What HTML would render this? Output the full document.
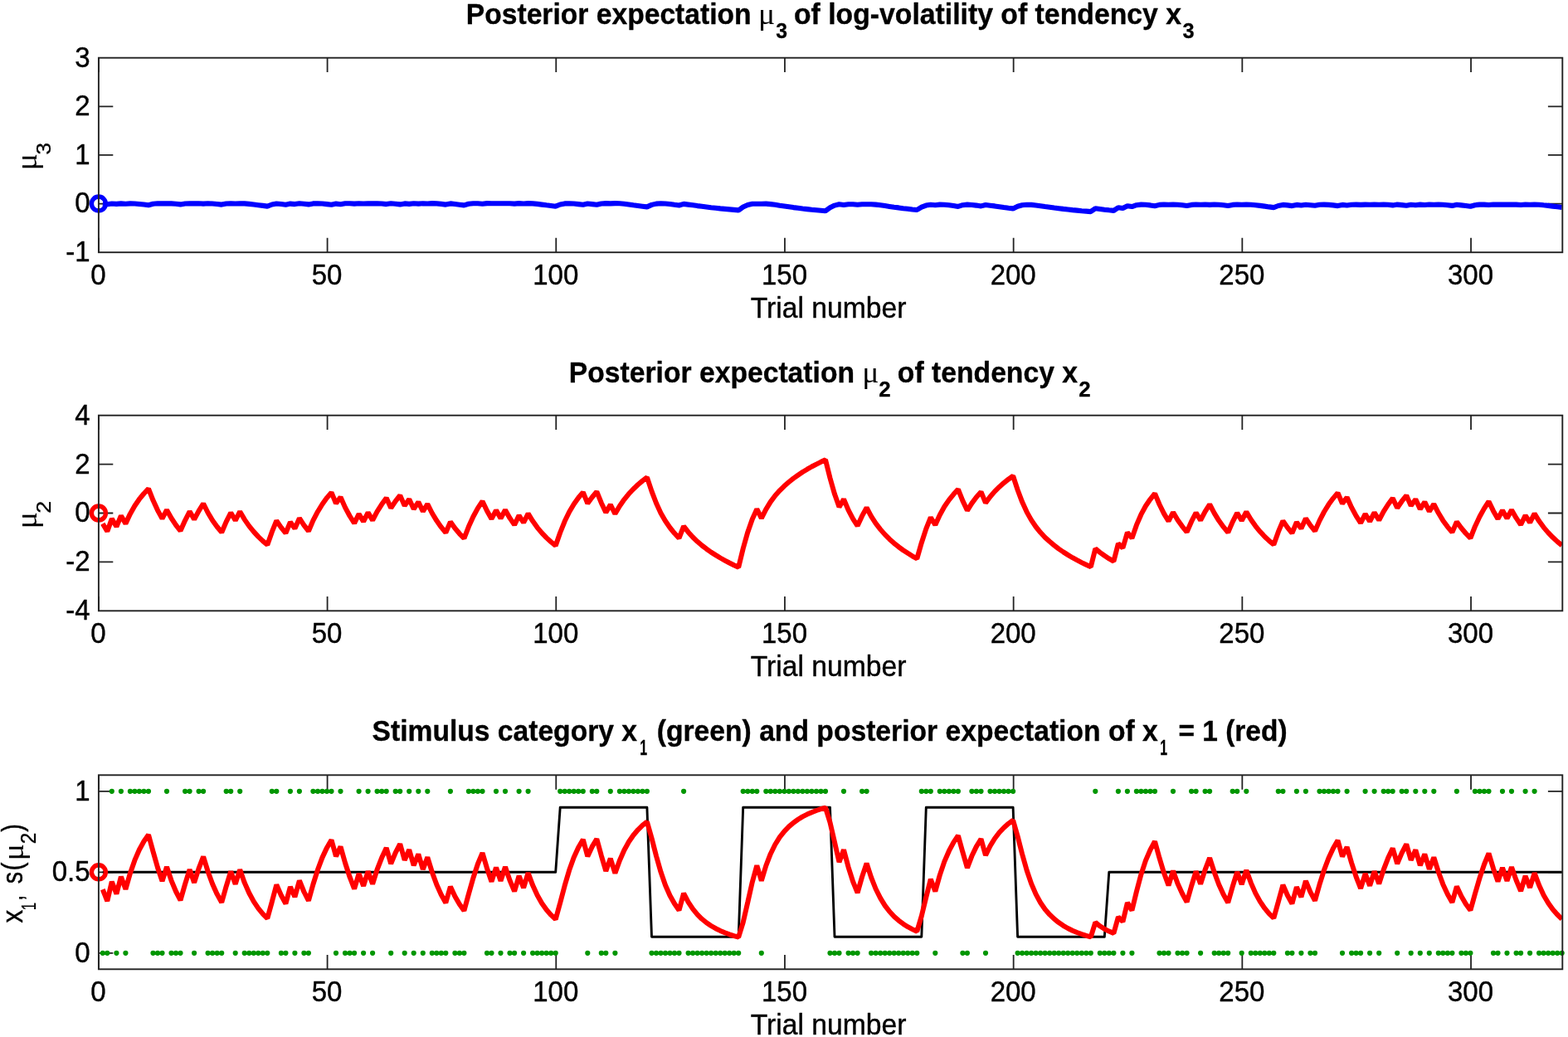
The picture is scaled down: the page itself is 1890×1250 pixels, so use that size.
<!DOCTYPE html>
<html lang="en"><head><meta charset="utf-8"><title>HGF posterior expectations</title>
<style>html,body{margin:0;padding:0;background:#fff}body{width:1890px;height:1250px;overflow:hidden}svg{display:block}text{white-space:pre}</style>
</head><body>
<svg width="1890" height="1250" viewBox="0 0 1890 1250">
<rect width="1890" height="1250" fill="#fff"/>
<defs><clipPath id="clip0"><rect x="118.90" y="69.70" width="1764.40" height="234.50"/></clipPath><clipPath id="clip1"><rect x="118.90" y="500.70" width="1764.40" height="235.60"/></clipPath><clipPath id="clip2"><rect x="118.90" y="934.30" width="1764.40" height="234.00"/></clipPath></defs>
<path d="M118.90,1168.30v-17.4M118.90,934.30v17.4M394.59,1168.30v-17.4M394.59,934.30v17.4M670.27,1168.30v-17.4M670.27,934.30v17.4M945.96,1168.30v-17.4M945.96,934.30v17.4M1221.65,1168.30v-17.4M1221.65,934.30v17.4M1497.34,1168.30v-17.4M1497.34,934.30v17.4M1773.03,1168.30v-17.4M1773.03,934.30v17.4M118.90,1148.80h17.4M1883.30,1148.80h-17.4M118.90,1051.30h17.4M1883.30,1051.30h-17.4M118.90,953.80h17.4M1883.30,953.80h-17.4" stroke="#222" stroke-width="1.8" fill="none"/>
<path d="M118.90,736.30v-17.4M118.90,500.70v17.4M394.59,736.30v-17.4M394.59,500.70v17.4M670.27,736.30v-17.4M670.27,500.70v17.4M945.96,736.30v-17.4M945.96,500.70v17.4M1221.65,736.30v-17.4M1221.65,500.70v17.4M1497.34,736.30v-17.4M1497.34,500.70v17.4M1773.03,736.30v-17.4M1773.03,500.70v17.4M118.90,677.40h17.4M1883.30,677.40h-17.4M118.90,618.50h17.4M1883.30,618.50h-17.4M118.90,559.60h17.4M1883.30,559.60h-17.4" stroke="#222" stroke-width="1.8" fill="none"/>
<path d="M118.90,304.20v-17.4M118.90,69.70v17.4M394.59,304.20v-17.4M394.59,69.70v17.4M670.27,304.20v-17.4M670.27,69.70v17.4M945.96,304.20v-17.4M945.96,69.70v17.4M1221.65,304.20v-17.4M1221.65,69.70v17.4M1497.34,304.20v-17.4M1497.34,69.70v17.4M1773.03,304.20v-17.4M1773.03,69.70v17.4M118.90,245.57h17.4M1883.30,245.57h-17.4M118.90,186.95h17.4M1883.30,186.95h-17.4M118.90,128.32h17.4M1883.30,128.32h-17.4" stroke="#222" stroke-width="1.8" fill="none"/>
<g id="p1">
<polyline clip-path="url(#clip0)" points="123.8,245.8 129.3,246.2 134.8,245.5 140.4,245.9 145.9,245.4 151.4,245.7 156.9,245.4 162.4,245.5 167.9,246.0 173.4,246.5 179.0,247.2 184.5,245.8 190.0,245.3 195.5,245.4 201.0,245.3 206.5,245.4 212.0,245.8 217.5,246.4 223.1,245.5 228.6,245.3 234.1,245.4 239.6,245.3 245.1,245.6 250.6,245.3 256.1,245.5 261.7,246.0 267.2,246.6 272.7,245.5 278.2,245.3 283.7,245.5 289.2,245.3 294.7,245.4 300.3,245.9 305.8,246.5 311.3,247.2 316.8,247.9 322.3,248.6 327.8,246.5 333.3,245.5 338.9,246.0 344.4,246.7 349.9,245.6 355.4,246.1 360.9,245.3 366.4,245.8 371.9,246.4 377.4,245.4 383.0,245.2 388.5,245.5 394.0,246.1 399.5,246.8 405.0,245.6 410.5,246.2 416.0,245.3 421.6,245.2 427.1,245.6 432.6,245.2 438.1,245.5 443.6,245.2 449.1,245.4 454.6,245.2 460.2,245.5 465.7,246.1 471.2,245.3 476.7,245.7 482.2,246.4 487.7,245.4 493.2,245.9 498.7,245.2 504.3,245.6 509.8,245.2 515.3,245.5 520.8,245.1 526.3,245.4 531.8,245.9 537.3,246.6 542.9,245.4 548.4,246.0 553.9,246.7 559.4,247.4 564.9,245.8 570.4,245.2 575.9,245.2 581.5,245.7 587.0,245.1 592.5,245.3 598.0,245.2 603.5,245.2 609.0,245.2 614.5,245.2 620.1,245.6 625.6,245.1 631.1,245.5 636.6,245.1 642.1,245.4 647.6,245.9 653.1,246.6 658.6,247.3 664.2,248.0 669.7,248.7 675.2,246.5 680.7,245.4 686.2,245.2 691.7,245.5 697.2,246.1 702.8,246.8 708.3,245.5 713.8,246.1 719.3,246.8 724.8,245.5 730.3,245.1 735.8,245.4 741.4,245.1 746.9,245.3 752.4,245.8 757.9,246.5 763.4,247.3 768.9,248.0 774.4,248.7 779.9,249.4 785.5,246.9 791.0,245.6 796.5,245.2 802.0,245.5 807.5,246.0 813.0,246.8 818.5,247.5 824.1,245.9 829.6,246.6 835.1,247.3 840.6,248.1 846.1,248.8 851.6,249.5 857.1,250.2 862.7,250.8 868.2,251.4 873.7,251.9 879.2,252.4 884.7,252.9 890.2,253.4 895.7,249.5 901.3,246.9 906.8,245.7 912.3,245.7 917.8,245.7 923.3,245.6 928.8,246.1 934.3,246.8 939.8,247.7 945.4,248.5 950.9,249.3 956.4,250.1 961.9,250.8 967.4,251.5 972.9,252.1 978.4,252.7 984.0,253.2 989.5,253.7 995.0,254.2 1000.5,250.3 1006.0,247.6 1011.5,246.3 1017.0,247.0 1022.6,246.2 1028.1,246.3 1033.6,246.8 1039.1,246.2 1044.6,246.3 1050.1,246.2 1055.6,246.6 1061.2,247.3 1066.7,248.1 1072.2,248.9 1077.7,249.7 1083.2,250.4 1088.7,251.2 1094.2,251.8 1099.7,252.5 1105.3,253.0 1110.8,249.7 1116.3,247.6 1121.8,246.7 1127.3,247.2 1132.8,246.6 1138.3,246.7 1143.9,247.3 1149.4,248.0 1154.9,248.9 1160.4,247.2 1165.9,246.6 1171.4,247.0 1176.9,247.6 1182.5,248.4 1188.0,247.0 1193.5,247.7 1199.0,248.4 1204.5,249.2 1210.0,250.0 1215.5,250.7 1221.1,251.4 1226.6,248.7 1232.1,247.2 1237.6,246.7 1243.1,246.9 1248.6,247.5 1254.1,248.2 1259.6,249.0 1265.2,249.7 1270.7,250.5 1276.2,251.2 1281.7,251.9 1287.2,252.5 1292.7,253.1 1298.2,253.6 1303.8,254.2 1309.3,254.6 1314.8,255.1 1320.3,251.3 1325.8,252.0 1331.3,252.7 1336.8,253.3 1342.4,253.9 1347.9,250.2 1353.4,251.0 1358.9,248.2 1364.4,249.1 1369.9,247.2 1375.4,246.6 1380.9,246.8 1386.5,247.4 1392.0,248.2 1397.5,246.9 1403.0,246.5 1408.5,246.8 1414.0,246.5 1419.5,246.7 1425.1,247.3 1430.6,248.1 1436.1,246.9 1441.6,246.5 1447.1,246.8 1452.6,246.5 1458.1,246.9 1463.7,246.5 1469.2,246.8 1474.7,247.3 1480.2,248.1 1485.7,246.9 1491.2,246.5 1496.7,246.8 1502.3,246.6 1507.8,246.7 1513.3,247.2 1518.8,247.9 1524.3,248.6 1529.8,249.4 1535.3,250.1 1540.8,248.0 1546.4,246.9 1551.9,247.4 1557.4,248.1 1562.9,246.9 1568.4,247.5 1573.9,246.7 1579.4,247.2 1585.0,247.8 1590.5,246.8 1596.0,246.6 1601.5,246.9 1607.0,247.4 1612.5,248.1 1618.0,246.9 1623.6,247.5 1629.1,246.7 1634.6,246.6 1640.1,246.9 1645.6,246.6 1651.1,246.8 1656.6,246.5 1662.2,246.7 1667.7,246.6 1673.2,246.8 1678.7,247.4 1684.2,246.6 1689.7,247.1 1695.2,247.7 1700.7,246.7 1706.3,247.3 1711.8,246.6 1717.3,247.0 1722.8,246.5 1728.3,246.8 1733.8,246.5 1739.3,246.7 1744.9,247.2 1750.4,247.9 1755.9,246.8 1761.4,247.4 1766.9,248.0 1772.4,248.8 1777.9,247.2 1783.5,246.6 1789.0,246.6 1794.5,247.0 1800.0,246.5 1805.5,246.6 1811.0,246.5 1816.5,246.6 1822.0,246.5 1827.6,246.6 1833.1,247.0 1838.6,246.5 1844.1,246.8 1849.6,246.5 1855.1,246.7 1860.6,247.3 1866.2,247.9 1871.7,248.6 1877.2,249.3 1882.7,250.0" fill="none" stroke="#0000ff" stroke-width="6.1" stroke-linejoin="bevel" stroke-linecap="butt"/>
<circle cx="118.9" cy="245.57" r="8.5" fill="none" stroke="#0000ff" stroke-width="5.4"/>
</g>
<g id="p2">
<polyline clip-path="url(#clip1)" points="123.8,631.3 129.3,640.5 134.8,625.4 140.4,634.7 145.9,621.8 151.4,631.1 156.9,619.4 162.4,609.7 167.9,601.7 173.4,595.0 179.0,589.1 184.5,603.1 190.0,615.1 195.5,625.1 201.0,614.7 206.5,624.5 212.0,632.8 217.5,639.8 223.1,627.3 228.6,616.6 234.1,626.1 239.6,615.8 245.1,607.0 250.6,618.0 256.1,627.2 261.7,635.0 267.2,641.7 272.7,628.9 278.2,618.0 283.7,627.3 289.2,616.7 294.7,626.1 300.3,634.1 305.8,640.9 311.3,646.9 316.8,652.1 322.3,656.8 327.8,641.2 333.3,627.7 338.9,635.9 344.4,642.7 349.9,629.3 355.4,637.1 360.9,624.7 366.4,633.1 371.9,640.2 377.4,627.4 383.0,616.7 388.5,607.7 394.0,600.1 399.5,593.7 405.0,606.8 410.5,599.3 416.0,611.6 421.6,622.0 427.1,630.7 432.6,619.6 438.1,628.6 443.6,617.9 449.1,627.1 454.6,616.6 460.2,607.8 465.7,600.3 471.2,612.3 476.7,604.1 482.2,597.1 487.7,609.6 493.2,601.7 498.7,613.6 504.3,605.1 509.8,616.5 515.3,607.6 520.8,618.5 526.3,627.6 531.8,635.4 537.3,642.0 542.9,629.1 548.4,636.8 553.9,643.3 559.4,649.0 564.9,634.8 570.4,622.7 575.9,612.6 581.5,604.2 587.0,615.7 592.5,625.4 598.0,615.1 603.5,624.8 609.0,614.7 614.5,624.4 620.1,632.6 625.6,621.3 631.1,630.0 636.6,619.1 642.1,628.1 647.6,635.8 653.1,642.4 658.6,648.1 664.2,653.2 669.7,657.8 675.2,642.0 680.7,628.3 686.2,617.0 691.7,607.7 697.2,600.0 702.8,593.4 708.3,606.8 713.8,599.2 719.3,592.7 724.8,606.2 730.3,617.6 735.8,608.4 741.4,619.3 746.9,609.9 752.4,602.1 757.9,595.3 763.4,589.5 768.9,584.3 774.4,579.6 779.9,575.4 785.5,592.1 791.0,606.5 796.5,618.4 802.0,628.0 807.5,636.0 813.0,642.8 818.5,648.6 824.1,634.3 829.6,641.4 835.1,647.5 840.6,652.8 846.1,657.5 851.6,661.7 857.1,665.6 862.7,669.1 868.2,672.5 873.7,675.6 879.2,678.5 884.7,681.2 890.2,683.8 895.7,661.2 901.3,641.4 906.8,625.7 912.3,613.7 917.8,624.7 923.3,613.8 928.8,604.9 934.3,597.5 939.8,591.3 945.4,585.8 950.9,581.0 956.4,576.6 961.9,572.7 967.4,569.0 972.9,565.7 978.4,562.5 984.0,559.6 989.5,556.8 995.0,554.2 1000.5,576.2 1006.0,595.6 1011.5,611.1 1017.0,601.8 1022.6,614.9 1028.1,625.3 1033.6,633.8 1039.1,621.9 1044.6,612.0 1050.1,622.3 1055.6,630.9 1061.2,638.1 1066.7,644.4 1072.2,649.9 1077.7,654.8 1083.2,659.2 1088.7,663.2 1094.2,666.8 1099.7,670.3 1105.3,673.4 1110.8,654.2 1116.3,637.4 1121.8,623.7 1127.3,632.8 1132.8,620.7 1138.3,610.8 1143.9,602.6 1149.4,595.8 1154.9,589.8 1160.4,603.6 1165.9,615.3 1171.4,606.6 1176.9,599.2 1182.5,592.9 1188.0,606.1 1193.5,598.7 1199.0,592.4 1204.5,586.9 1210.0,582.1 1215.5,577.7 1221.1,573.7 1226.6,590.5 1232.1,605.1 1237.6,617.1 1243.1,626.9 1248.6,635.0 1254.1,641.8 1259.6,647.7 1265.2,652.8 1270.7,657.4 1276.2,661.6 1281.7,665.4 1287.2,668.9 1292.7,672.2 1298.2,675.2 1303.8,678.1 1309.3,680.8 1314.8,683.3 1320.3,661.4 1325.8,665.9 1331.3,669.8 1336.8,673.4 1342.4,676.6 1347.9,655.3 1353.4,660.5 1358.9,641.9 1364.4,648.7 1369.9,632.9 1375.4,620.2 1380.9,610.0 1386.5,601.8 1392.0,594.9 1397.5,608.0 1403.0,619.1 1408.5,628.2 1414.0,617.5 1419.5,626.8 1425.1,634.6 1430.6,641.3 1436.1,628.7 1441.6,618.0 1447.1,627.1 1452.6,616.7 1458.1,608.0 1463.7,618.6 1469.2,627.6 1474.7,635.2 1480.2,641.8 1485.7,629.1 1491.2,618.4 1496.7,627.5 1502.3,617.0 1507.8,626.3 1513.3,634.1 1518.8,640.8 1524.3,646.7 1529.8,651.9 1535.3,656.5 1540.8,641.2 1546.4,627.9 1551.9,635.9 1557.4,642.7 1562.9,629.5 1568.4,637.1 1573.9,624.9 1579.4,633.2 1585.0,640.1 1590.5,627.6 1596.0,617.0 1601.5,608.1 1607.0,600.6 1612.5,594.1 1618.0,607.0 1623.6,599.6 1629.1,611.7 1634.6,621.9 1640.1,630.5 1645.6,619.6 1651.1,628.5 1656.6,617.9 1662.2,627.0 1667.7,616.7 1673.2,608.0 1678.7,600.6 1684.2,612.3 1689.7,604.2 1695.2,597.3 1700.7,609.6 1706.3,601.9 1711.8,613.6 1717.3,605.2 1722.8,616.3 1728.3,607.6 1733.8,618.3 1739.3,627.4 1744.9,635.1 1750.4,641.6 1755.9,629.0 1761.4,636.5 1766.9,643.0 1772.4,648.7 1777.9,634.7 1783.5,622.8 1789.0,612.9 1794.5,604.5 1800.0,615.9 1805.5,625.4 1811.0,615.2 1816.5,624.8 1822.0,614.8 1827.6,624.4 1833.1,632.5 1838.6,621.3 1844.1,629.9 1849.6,619.2 1855.1,628.1 1860.6,635.6 1866.2,642.1 1871.7,647.8 1877.2,652.9 1882.7,657.4" fill="none" stroke="#ff0000" stroke-width="6.0" stroke-linejoin="bevel" stroke-linecap="butt"/>
<circle cx="118.9" cy="618.5" r="8.5" fill="none" stroke="#ff0000" stroke-width="5.4"/>
</g>
<g id="p3">
<polyline clip-path="url(#clip2)" points="123.8,1051.3 129.3,1051.3 134.8,1051.3 140.4,1051.3 145.9,1051.3 151.4,1051.3 156.9,1051.3 162.4,1051.3 167.9,1051.3 173.4,1051.3 179.0,1051.3 184.5,1051.3 190.0,1051.3 195.5,1051.3 201.0,1051.3 206.5,1051.3 212.0,1051.3 217.5,1051.3 223.1,1051.3 228.6,1051.3 234.1,1051.3 239.6,1051.3 245.1,1051.3 250.6,1051.3 256.1,1051.3 261.7,1051.3 267.2,1051.3 272.7,1051.3 278.2,1051.3 283.7,1051.3 289.2,1051.3 294.7,1051.3 300.3,1051.3 305.8,1051.3 311.3,1051.3 316.8,1051.3 322.3,1051.3 327.8,1051.3 333.3,1051.3 338.9,1051.3 344.4,1051.3 349.9,1051.3 355.4,1051.3 360.9,1051.3 366.4,1051.3 371.9,1051.3 377.4,1051.3 383.0,1051.3 388.5,1051.3 394.0,1051.3 399.5,1051.3 405.0,1051.3 410.5,1051.3 416.0,1051.3 421.6,1051.3 427.1,1051.3 432.6,1051.3 438.1,1051.3 443.6,1051.3 449.1,1051.3 454.6,1051.3 460.2,1051.3 465.7,1051.3 471.2,1051.3 476.7,1051.3 482.2,1051.3 487.7,1051.3 493.2,1051.3 498.7,1051.3 504.3,1051.3 509.8,1051.3 515.3,1051.3 520.8,1051.3 526.3,1051.3 531.8,1051.3 537.3,1051.3 542.9,1051.3 548.4,1051.3 553.9,1051.3 559.4,1051.3 564.9,1051.3 570.4,1051.3 575.9,1051.3 581.5,1051.3 587.0,1051.3 592.5,1051.3 598.0,1051.3 603.5,1051.3 609.0,1051.3 614.5,1051.3 620.1,1051.3 625.6,1051.3 631.1,1051.3 636.6,1051.3 642.1,1051.3 647.6,1051.3 653.1,1051.3 658.6,1051.3 664.2,1051.3 669.7,1051.3 675.2,973.3 680.7,973.3 686.2,973.3 691.7,973.3 697.2,973.3 702.8,973.3 708.3,973.3 713.8,973.3 719.3,973.3 724.8,973.3 730.3,973.3 735.8,973.3 741.4,973.3 746.9,973.3 752.4,973.3 757.9,973.3 763.4,973.3 768.9,973.3 774.4,973.3 779.9,973.3 785.5,1129.3 791.0,1129.3 796.5,1129.3 802.0,1129.3 807.5,1129.3 813.0,1129.3 818.5,1129.3 824.1,1129.3 829.6,1129.3 835.1,1129.3 840.6,1129.3 846.1,1129.3 851.6,1129.3 857.1,1129.3 862.7,1129.3 868.2,1129.3 873.7,1129.3 879.2,1129.3 884.7,1129.3 890.2,1129.3 895.7,973.3 901.3,973.3 906.8,973.3 912.3,973.3 917.8,973.3 923.3,973.3 928.8,973.3 934.3,973.3 939.8,973.3 945.4,973.3 950.9,973.3 956.4,973.3 961.9,973.3 967.4,973.3 972.9,973.3 978.4,973.3 984.0,973.3 989.5,973.3 995.0,973.3 1000.5,973.3 1006.0,1129.3 1011.5,1129.3 1017.0,1129.3 1022.6,1129.3 1028.1,1129.3 1033.6,1129.3 1039.1,1129.3 1044.6,1129.3 1050.1,1129.3 1055.6,1129.3 1061.2,1129.3 1066.7,1129.3 1072.2,1129.3 1077.7,1129.3 1083.2,1129.3 1088.7,1129.3 1094.2,1129.3 1099.7,1129.3 1105.3,1129.3 1110.8,1129.3 1116.3,973.3 1121.8,973.3 1127.3,973.3 1132.8,973.3 1138.3,973.3 1143.9,973.3 1149.4,973.3 1154.9,973.3 1160.4,973.3 1165.9,973.3 1171.4,973.3 1176.9,973.3 1182.5,973.3 1188.0,973.3 1193.5,973.3 1199.0,973.3 1204.5,973.3 1210.0,973.3 1215.5,973.3 1221.1,973.3 1226.6,1129.3 1232.1,1129.3 1237.6,1129.3 1243.1,1129.3 1248.6,1129.3 1254.1,1129.3 1259.6,1129.3 1265.2,1129.3 1270.7,1129.3 1276.2,1129.3 1281.7,1129.3 1287.2,1129.3 1292.7,1129.3 1298.2,1129.3 1303.8,1129.3 1309.3,1129.3 1314.8,1129.3 1320.3,1129.3 1325.8,1129.3 1331.3,1129.3 1336.8,1051.3 1342.4,1051.3 1347.9,1051.3 1353.4,1051.3 1358.9,1051.3 1364.4,1051.3 1369.9,1051.3 1375.4,1051.3 1380.9,1051.3 1386.5,1051.3 1392.0,1051.3 1397.5,1051.3 1403.0,1051.3 1408.5,1051.3 1414.0,1051.3 1419.5,1051.3 1425.1,1051.3 1430.6,1051.3 1436.1,1051.3 1441.6,1051.3 1447.1,1051.3 1452.6,1051.3 1458.1,1051.3 1463.7,1051.3 1469.2,1051.3 1474.7,1051.3 1480.2,1051.3 1485.7,1051.3 1491.2,1051.3 1496.7,1051.3 1502.3,1051.3 1507.8,1051.3 1513.3,1051.3 1518.8,1051.3 1524.3,1051.3 1529.8,1051.3 1535.3,1051.3 1540.8,1051.3 1546.4,1051.3 1551.9,1051.3 1557.4,1051.3 1562.9,1051.3 1568.4,1051.3 1573.9,1051.3 1579.4,1051.3 1585.0,1051.3 1590.5,1051.3 1596.0,1051.3 1601.5,1051.3 1607.0,1051.3 1612.5,1051.3 1618.0,1051.3 1623.6,1051.3 1629.1,1051.3 1634.6,1051.3 1640.1,1051.3 1645.6,1051.3 1651.1,1051.3 1656.6,1051.3 1662.2,1051.3 1667.7,1051.3 1673.2,1051.3 1678.7,1051.3 1684.2,1051.3 1689.7,1051.3 1695.2,1051.3 1700.7,1051.3 1706.3,1051.3 1711.8,1051.3 1717.3,1051.3 1722.8,1051.3 1728.3,1051.3 1733.8,1051.3 1739.3,1051.3 1744.9,1051.3 1750.4,1051.3 1755.9,1051.3 1761.4,1051.3 1766.9,1051.3 1772.4,1051.3 1777.9,1051.3 1783.5,1051.3 1789.0,1051.3 1794.5,1051.3 1800.0,1051.3 1805.5,1051.3 1811.0,1051.3 1816.5,1051.3 1822.0,1051.3 1827.6,1051.3 1833.1,1051.3 1838.6,1051.3 1844.1,1051.3 1849.6,1051.3 1855.1,1051.3 1860.6,1051.3 1866.2,1051.3 1871.7,1051.3 1877.2,1051.3 1882.7,1051.3" fill="none" stroke="#000" stroke-width="2.9" stroke-linejoin="round" stroke-linecap="butt"/>
<path d="M123.8,1148.8h0M129.3,1148.8h0M134.8,953.8h0M140.4,1148.8h0M145.9,953.8h0M151.4,1148.8h0M156.9,953.8h0M162.4,953.8h0M167.9,953.8h0M173.4,953.8h0M179.0,953.8h0M184.5,1148.8h0M190.0,1148.8h0M195.5,1148.8h0M201.0,953.8h0M206.5,1148.8h0M212.0,1148.8h0M217.5,1148.8h0M223.1,953.8h0M228.6,953.8h0M234.1,1148.8h0M239.6,953.8h0M245.1,953.8h0M250.6,1148.8h0M256.1,1148.8h0M261.7,1148.8h0M267.2,1148.8h0M272.7,953.8h0M278.2,953.8h0M283.7,1148.8h0M289.2,953.8h0M294.7,1148.8h0M300.3,1148.8h0M305.8,1148.8h0M311.3,1148.8h0M316.8,1148.8h0M322.3,1148.8h0M327.8,953.8h0M333.3,953.8h0M338.9,1148.8h0M344.4,1148.8h0M349.9,953.8h0M355.4,1148.8h0M360.9,953.8h0M366.4,1148.8h0M371.9,1148.8h0M377.4,953.8h0M383.0,953.8h0M388.5,953.8h0M394.0,953.8h0M399.5,953.8h0M405.0,1148.8h0M410.5,953.8h0M416.0,1148.8h0M421.6,1148.8h0M427.1,1148.8h0M432.6,953.8h0M438.1,1148.8h0M443.6,953.8h0M449.1,1148.8h0M454.6,953.8h0M460.2,953.8h0M465.7,953.8h0M471.2,1148.8h0M476.7,953.8h0M482.2,953.8h0M487.7,1148.8h0M493.2,953.8h0M498.7,1148.8h0M504.3,953.8h0M509.8,1148.8h0M515.3,953.8h0M520.8,1148.8h0M526.3,1148.8h0M531.8,1148.8h0M537.3,1148.8h0M542.9,953.8h0M548.4,1148.8h0M553.9,1148.8h0M559.4,1148.8h0M564.9,953.8h0M570.4,953.8h0M575.9,953.8h0M581.5,953.8h0M587.0,1148.8h0M592.5,1148.8h0M598.0,953.8h0M603.5,1148.8h0M609.0,953.8h0M614.5,1148.8h0M620.1,1148.8h0M625.6,953.8h0M631.1,1148.8h0M636.6,953.8h0M642.1,1148.8h0M647.6,1148.8h0M653.1,1148.8h0M658.6,1148.8h0M664.2,1148.8h0M669.7,1148.8h0M675.2,953.8h0M680.7,953.8h0M686.2,953.8h0M691.7,953.8h0M697.2,953.8h0M702.8,953.8h0M708.3,1148.8h0M713.8,953.8h0M719.3,953.8h0M724.8,1148.8h0M730.3,1148.8h0M735.8,953.8h0M741.4,1148.8h0M746.9,953.8h0M752.4,953.8h0M757.9,953.8h0M763.4,953.8h0M768.9,953.8h0M774.4,953.8h0M779.9,953.8h0M785.5,1148.8h0M791.0,1148.8h0M796.5,1148.8h0M802.0,1148.8h0M807.5,1148.8h0M813.0,1148.8h0M818.5,1148.8h0M824.1,953.8h0M829.6,1148.8h0M835.1,1148.8h0M840.6,1148.8h0M846.1,1148.8h0M851.6,1148.8h0M857.1,1148.8h0M862.7,1148.8h0M868.2,1148.8h0M873.7,1148.8h0M879.2,1148.8h0M884.7,1148.8h0M890.2,1148.8h0M895.7,953.8h0M901.3,953.8h0M906.8,953.8h0M912.3,953.8h0M917.8,1148.8h0M923.3,953.8h0M928.8,953.8h0M934.3,953.8h0M939.8,953.8h0M945.4,953.8h0M950.9,953.8h0M956.4,953.8h0M961.9,953.8h0M967.4,953.8h0M972.9,953.8h0M978.4,953.8h0M984.0,953.8h0M989.5,953.8h0M995.0,953.8h0M1000.5,1148.8h0M1006.0,1148.8h0M1011.5,1148.8h0M1017.0,953.8h0M1022.6,1148.8h0M1028.1,1148.8h0M1033.6,1148.8h0M1039.1,953.8h0M1044.6,953.8h0M1050.1,1148.8h0M1055.6,1148.8h0M1061.2,1148.8h0M1066.7,1148.8h0M1072.2,1148.8h0M1077.7,1148.8h0M1083.2,1148.8h0M1088.7,1148.8h0M1094.2,1148.8h0M1099.7,1148.8h0M1105.3,1148.8h0M1110.8,953.8h0M1116.3,953.8h0M1121.8,953.8h0M1127.3,1148.8h0M1132.8,953.8h0M1138.3,953.8h0M1143.9,953.8h0M1149.4,953.8h0M1154.9,953.8h0M1160.4,1148.8h0M1165.9,1148.8h0M1171.4,953.8h0M1176.9,953.8h0M1182.5,953.8h0M1188.0,1148.8h0M1193.5,953.8h0M1199.0,953.8h0M1204.5,953.8h0M1210.0,953.8h0M1215.5,953.8h0M1221.1,953.8h0M1226.6,1148.8h0M1232.1,1148.8h0M1237.6,1148.8h0M1243.1,1148.8h0M1248.6,1148.8h0M1254.1,1148.8h0M1259.6,1148.8h0M1265.2,1148.8h0M1270.7,1148.8h0M1276.2,1148.8h0M1281.7,1148.8h0M1287.2,1148.8h0M1292.7,1148.8h0M1298.2,1148.8h0M1303.8,1148.8h0M1309.3,1148.8h0M1314.8,1148.8h0M1320.3,953.8h0M1325.8,1148.8h0M1331.3,1148.8h0M1336.8,1148.8h0M1342.4,1148.8h0M1347.9,953.8h0M1353.4,1148.8h0M1358.9,953.8h0M1364.4,1148.8h0M1369.9,953.8h0M1375.4,953.8h0M1380.9,953.8h0M1386.5,953.8h0M1392.0,953.8h0M1397.5,1148.8h0M1403.0,1148.8h0M1408.5,1148.8h0M1414.0,953.8h0M1419.5,1148.8h0M1425.1,1148.8h0M1430.6,1148.8h0M1436.1,953.8h0M1441.6,953.8h0M1447.1,1148.8h0M1452.6,953.8h0M1458.1,953.8h0M1463.7,1148.8h0M1469.2,1148.8h0M1474.7,1148.8h0M1480.2,1148.8h0M1485.7,953.8h0M1491.2,953.8h0M1496.7,1148.8h0M1502.3,953.8h0M1507.8,1148.8h0M1513.3,1148.8h0M1518.8,1148.8h0M1524.3,1148.8h0M1529.8,1148.8h0M1535.3,1148.8h0M1540.8,953.8h0M1546.4,953.8h0M1551.9,1148.8h0M1557.4,1148.8h0M1562.9,953.8h0M1568.4,1148.8h0M1573.9,953.8h0M1579.4,1148.8h0M1585.0,1148.8h0M1590.5,953.8h0M1596.0,953.8h0M1601.5,953.8h0M1607.0,953.8h0M1612.5,953.8h0M1618.0,1148.8h0M1623.6,953.8h0M1629.1,1148.8h0M1634.6,1148.8h0M1640.1,1148.8h0M1645.6,953.8h0M1651.1,1148.8h0M1656.6,953.8h0M1662.2,1148.8h0M1667.7,953.8h0M1673.2,953.8h0M1678.7,953.8h0M1684.2,1148.8h0M1689.7,953.8h0M1695.2,953.8h0M1700.7,1148.8h0M1706.3,953.8h0M1711.8,1148.8h0M1717.3,953.8h0M1722.8,1148.8h0M1728.3,953.8h0M1733.8,1148.8h0M1739.3,1148.8h0M1744.9,1148.8h0M1750.4,1148.8h0M1755.9,953.8h0M1761.4,1148.8h0M1766.9,1148.8h0M1772.4,1148.8h0M1777.9,953.8h0M1783.5,953.8h0M1789.0,953.8h0M1794.5,953.8h0M1800.0,1148.8h0M1805.5,1148.8h0M1811.0,953.8h0M1816.5,1148.8h0M1822.0,953.8h0M1827.6,1148.8h0M1833.1,1148.8h0M1838.6,953.8h0M1844.1,1148.8h0M1849.6,953.8h0M1855.1,1148.8h0M1860.6,1148.8h0M1866.2,1148.8h0M1871.7,1148.8h0M1877.2,1148.8h0M1882.7,1148.8h0" stroke="#009600" stroke-width="6.2" stroke-linecap="round" fill="none"/>
<polyline clip-path="url(#clip2)" points="123.8,1072.2 129.3,1086.1 134.8,1062.7 140.4,1077.4 145.9,1056.7 151.4,1071.8 156.9,1052.7 162.4,1036.9 167.9,1024.3 173.4,1014.3 179.0,1006.3 184.5,1026.4 190.0,1045.7 195.5,1062.1 201.0,1045.0 206.5,1061.3 212.0,1074.5 217.5,1085.1 223.1,1065.7 228.6,1048.2 234.1,1063.9 239.6,1046.8 245.1,1032.6 250.6,1050.4 256.1,1065.6 261.7,1077.9 267.2,1087.8 272.7,1068.3 278.2,1050.4 283.7,1065.7 289.2,1048.3 294.7,1063.9 300.3,1076.5 305.8,1086.7 311.3,1094.9 316.8,1101.6 322.3,1107.0 327.8,1087.1 333.3,1066.4 338.9,1079.2 344.4,1089.2 349.9,1069.0 355.4,1081.1 360.9,1061.5 366.4,1075.0 371.9,1085.7 377.4,1066.0 383.0,1048.3 388.5,1033.6 394.0,1021.9 399.5,1012.5 405.0,1032.2 410.5,1020.6 416.0,1040.0 421.6,1057.2 427.1,1071.3 432.6,1053.1 438.1,1067.9 443.6,1050.3 449.1,1065.5 454.6,1048.2 460.2,1033.8 465.7,1022.1 471.2,1041.1 476.7,1027.9 482.2,1017.3 487.7,1036.7 493.2,1024.3 498.7,1043.2 504.3,1029.6 509.8,1047.9 515.3,1033.4 520.8,1051.2 526.3,1066.3 531.8,1078.5 537.3,1088.3 542.9,1068.7 548.4,1080.6 553.9,1090.1 559.4,1097.7 564.9,1077.6 570.4,1058.2 575.9,1041.5 581.5,1028.1 587.0,1046.7 592.5,1062.7 598.0,1045.7 603.5,1061.7 609.0,1045.0 614.5,1061.1 620.1,1074.3 625.6,1055.9 631.1,1070.1 636.6,1052.2 642.1,1067.1 647.6,1079.1 653.1,1088.8 658.6,1096.6 664.2,1102.9 669.7,1108.2 675.2,1088.2 680.7,1067.4 686.2,1048.8 691.7,1033.6 697.2,1021.6 702.8,1012.1 708.3,1032.2 713.8,1020.4 719.3,1011.2 724.8,1031.3 730.3,1049.9 735.8,1034.8 741.4,1052.6 746.9,1037.2 752.4,1024.8 757.9,1014.8 763.4,1006.8 768.9,1000.3 774.4,994.9 779.9,990.5 785.5,1010.3 791.0,1031.7 796.5,1051.1 802.0,1067.0 807.5,1079.5 813.0,1089.3 818.5,1097.2 824.1,1076.9 829.6,1087.4 835.1,1095.7 840.6,1102.4 846.1,1107.8 851.6,1112.3 857.1,1116.0 862.7,1119.2 868.2,1121.9 873.7,1124.2 879.2,1126.3 884.7,1128.1 890.2,1129.6 895.7,1111.8 901.3,1087.5 906.8,1063.2 912.3,1043.3 917.8,1061.6 923.3,1043.5 928.8,1029.2 934.3,1018.0 939.8,1009.2 945.4,1002.1 950.9,996.4 956.4,991.7 961.9,987.8 967.4,984.4 972.9,981.6 978.4,979.2 984.0,977.0 989.5,975.2 995.0,973.5 1000.5,991.3 1006.0,1015.2 1011.5,1039.1 1017.0,1024.4 1022.6,1045.3 1028.1,1062.6 1033.6,1076.1 1039.1,1056.9 1044.6,1040.6 1050.1,1057.6 1055.6,1071.5 1061.2,1082.7 1066.7,1091.6 1072.2,1098.8 1077.7,1104.7 1083.2,1109.6 1088.7,1113.7 1094.2,1117.2 1099.7,1120.1 1105.3,1122.7 1110.8,1104.1 1116.3,1081.5 1121.8,1059.8 1127.3,1074.5 1132.8,1054.9 1138.3,1038.6 1143.9,1025.7 1149.4,1015.4 1154.9,1007.3 1160.4,1027.2 1165.9,1046.1 1171.4,1031.8 1176.9,1020.4 1182.5,1011.4 1188.0,1031.0 1193.5,1019.7 1199.0,1010.7 1204.5,1003.5 1210.0,997.7 1215.5,992.8 1221.1,988.7 1226.6,1008.1 1232.1,1029.5 1237.6,1049.0 1243.1,1065.1 1248.6,1077.9 1254.1,1088.0 1259.6,1096.0 1265.2,1102.4 1270.7,1107.7 1276.2,1112.1 1281.7,1115.8 1287.2,1119.0 1292.7,1121.7 1298.2,1124.0 1303.8,1126.0 1309.3,1127.8 1314.8,1129.4 1320.3,1111.9 1325.8,1116.3 1331.3,1119.8 1336.8,1122.6 1342.4,1125.0 1347.9,1105.3 1353.4,1111.0 1358.9,1088.1 1364.4,1097.4 1369.9,1074.7 1375.4,1054.1 1380.9,1037.4 1386.5,1024.4 1392.0,1014.2 1397.5,1034.2 1403.0,1052.3 1408.5,1067.3 1414.0,1049.7 1419.5,1065.0 1425.1,1077.3 1430.6,1087.3 1436.1,1068.0 1441.6,1050.4 1447.1,1065.5 1452.6,1048.4 1458.1,1034.1 1463.7,1051.5 1469.2,1066.2 1474.7,1078.3 1480.2,1088.0 1485.7,1068.7 1491.2,1051.1 1496.7,1066.0 1502.3,1048.9 1507.8,1064.1 1513.3,1076.6 1518.8,1086.6 1524.3,1094.7 1529.8,1101.3 1535.3,1106.7 1540.8,1087.1 1546.4,1066.8 1551.9,1079.3 1557.4,1089.2 1562.9,1069.3 1568.4,1081.2 1573.9,1061.9 1579.4,1075.1 1585.0,1085.6 1590.5,1066.2 1596.0,1048.8 1601.5,1034.2 1607.0,1022.5 1612.5,1013.1 1618.0,1032.5 1623.6,1021.0 1629.1,1040.1 1634.6,1056.9 1640.1,1070.9 1645.6,1053.1 1651.1,1067.6 1656.6,1050.3 1662.2,1065.3 1667.7,1048.3 1673.2,1034.1 1678.7,1022.5 1684.2,1041.1 1689.7,1028.1 1695.2,1017.7 1700.7,1036.7 1706.3,1024.5 1711.8,1043.1 1717.3,1029.7 1722.8,1047.7 1728.3,1033.5 1733.8,1051.0 1739.3,1065.9 1744.9,1078.0 1750.4,1087.8 1755.9,1068.5 1761.4,1080.3 1766.9,1089.7 1772.4,1097.3 1777.9,1077.5 1783.5,1058.4 1789.0,1042.0 1794.5,1028.6 1800.0,1046.9 1805.5,1062.6 1811.0,1045.9 1816.5,1061.7 1822.0,1045.2 1827.6,1061.0 1833.1,1074.0 1838.6,1056.0 1844.1,1069.9 1849.6,1052.4 1855.1,1067.0 1860.6,1078.9 1866.2,1088.4 1871.7,1096.2 1877.2,1102.5 1882.7,1107.8" fill="none" stroke="#ff0000" stroke-width="6.0" stroke-linejoin="bevel" stroke-linecap="butt"/>
<circle cx="118.9" cy="1051.3" r="8.5" fill="none" stroke="#ff0000" stroke-width="5.4"/>
</g>
<rect x="118.90" y="69.70" width="1764.40" height="234.50" fill="none" stroke="#222" stroke-width="1.9"/>
<text transform="translate(118.4,343.1) scale(0.3300,0.3450)" font-family="Liberation Sans, Arial, Helvetica, sans-serif" font-weight="normal" font-size="100" text-anchor="middle" fill="#000" stroke="#000" stroke-width="1.2" stroke-linejoin="round">0</text>
<text transform="translate(394.09,343.1) scale(0.3300,0.3450)" font-family="Liberation Sans, Arial, Helvetica, sans-serif" font-weight="normal" font-size="100" text-anchor="middle" fill="#000" stroke="#000" stroke-width="1.2" stroke-linejoin="round">50</text>
<text transform="translate(669.77,343.1) scale(0.3300,0.3450)" font-family="Liberation Sans, Arial, Helvetica, sans-serif" font-weight="normal" font-size="100" text-anchor="middle" fill="#000" stroke="#000" stroke-width="1.2" stroke-linejoin="round">100</text>
<text transform="translate(945.46,343.1) scale(0.3300,0.3450)" font-family="Liberation Sans, Arial, Helvetica, sans-serif" font-weight="normal" font-size="100" text-anchor="middle" fill="#000" stroke="#000" stroke-width="1.2" stroke-linejoin="round">150</text>
<text transform="translate(1221.15,343.1) scale(0.3300,0.3450)" font-family="Liberation Sans, Arial, Helvetica, sans-serif" font-weight="normal" font-size="100" text-anchor="middle" fill="#000" stroke="#000" stroke-width="1.2" stroke-linejoin="round">200</text>
<text transform="translate(1496.84,343.1) scale(0.3300,0.3450)" font-family="Liberation Sans, Arial, Helvetica, sans-serif" font-weight="normal" font-size="100" text-anchor="middle" fill="#000" stroke="#000" stroke-width="1.2" stroke-linejoin="round">250</text>
<text transform="translate(1772.53,343.1) scale(0.3300,0.3450)" font-family="Liberation Sans, Arial, Helvetica, sans-serif" font-weight="normal" font-size="100" text-anchor="middle" fill="#000" stroke="#000" stroke-width="1.2" stroke-linejoin="round">300</text>
<text transform="translate(108.6,315.1) scale(0.3300,0.3450)" font-family="Liberation Sans, Arial, Helvetica, sans-serif" font-weight="normal" font-size="100" text-anchor="end" fill="#000" stroke="#000" stroke-width="1.2" stroke-linejoin="round">-1</text>
<text transform="translate(108.6,256.47) scale(0.3300,0.3450)" font-family="Liberation Sans, Arial, Helvetica, sans-serif" font-weight="normal" font-size="100" text-anchor="end" fill="#000" stroke="#000" stroke-width="1.2" stroke-linejoin="round">0</text>
<text transform="translate(108.6,197.85) scale(0.3300,0.3450)" font-family="Liberation Sans, Arial, Helvetica, sans-serif" font-weight="normal" font-size="100" text-anchor="end" fill="#000" stroke="#000" stroke-width="1.2" stroke-linejoin="round">1</text>
<text transform="translate(108.6,139.22) scale(0.3300,0.3450)" font-family="Liberation Sans, Arial, Helvetica, sans-serif" font-weight="normal" font-size="100" text-anchor="end" fill="#000" stroke="#000" stroke-width="1.2" stroke-linejoin="round">2</text>
<text transform="translate(108.6,80.6) scale(0.3300,0.3450)" font-family="Liberation Sans, Arial, Helvetica, sans-serif" font-weight="normal" font-size="100" text-anchor="end" fill="#000" stroke="#000" stroke-width="1.2" stroke-linejoin="round">3</text>
<text transform="translate(904.73,382.5) scale(0.3368,0.3450)" font-family="Liberation Sans, Arial, Helvetica, sans-serif" font-weight="normal" font-size="100" text-anchor="start" fill="#000" stroke="#000" stroke-width="1.2" stroke-linejoin="round">Trial number</text>
<rect x="118.90" y="500.70" width="1764.40" height="235.60" fill="none" stroke="#222" stroke-width="1.9"/>
<text transform="translate(118.4,775.2) scale(0.3300,0.3450)" font-family="Liberation Sans, Arial, Helvetica, sans-serif" font-weight="normal" font-size="100" text-anchor="middle" fill="#000" stroke="#000" stroke-width="1.2" stroke-linejoin="round">0</text>
<text transform="translate(394.09,775.2) scale(0.3300,0.3450)" font-family="Liberation Sans, Arial, Helvetica, sans-serif" font-weight="normal" font-size="100" text-anchor="middle" fill="#000" stroke="#000" stroke-width="1.2" stroke-linejoin="round">50</text>
<text transform="translate(669.77,775.2) scale(0.3300,0.3450)" font-family="Liberation Sans, Arial, Helvetica, sans-serif" font-weight="normal" font-size="100" text-anchor="middle" fill="#000" stroke="#000" stroke-width="1.2" stroke-linejoin="round">100</text>
<text transform="translate(945.46,775.2) scale(0.3300,0.3450)" font-family="Liberation Sans, Arial, Helvetica, sans-serif" font-weight="normal" font-size="100" text-anchor="middle" fill="#000" stroke="#000" stroke-width="1.2" stroke-linejoin="round">150</text>
<text transform="translate(1221.15,775.2) scale(0.3300,0.3450)" font-family="Liberation Sans, Arial, Helvetica, sans-serif" font-weight="normal" font-size="100" text-anchor="middle" fill="#000" stroke="#000" stroke-width="1.2" stroke-linejoin="round">200</text>
<text transform="translate(1496.84,775.2) scale(0.3300,0.3450)" font-family="Liberation Sans, Arial, Helvetica, sans-serif" font-weight="normal" font-size="100" text-anchor="middle" fill="#000" stroke="#000" stroke-width="1.2" stroke-linejoin="round">250</text>
<text transform="translate(1772.53,775.2) scale(0.3300,0.3450)" font-family="Liberation Sans, Arial, Helvetica, sans-serif" font-weight="normal" font-size="100" text-anchor="middle" fill="#000" stroke="#000" stroke-width="1.2" stroke-linejoin="round">300</text>
<text transform="translate(108.6,747.2) scale(0.3300,0.3450)" font-family="Liberation Sans, Arial, Helvetica, sans-serif" font-weight="normal" font-size="100" text-anchor="end" fill="#000" stroke="#000" stroke-width="1.2" stroke-linejoin="round">-4</text>
<text transform="translate(108.6,688.3) scale(0.3300,0.3450)" font-family="Liberation Sans, Arial, Helvetica, sans-serif" font-weight="normal" font-size="100" text-anchor="end" fill="#000" stroke="#000" stroke-width="1.2" stroke-linejoin="round">-2</text>
<text transform="translate(108.6,629.4) scale(0.3300,0.3450)" font-family="Liberation Sans, Arial, Helvetica, sans-serif" font-weight="normal" font-size="100" text-anchor="end" fill="#000" stroke="#000" stroke-width="1.2" stroke-linejoin="round">0</text>
<text transform="translate(108.6,570.5) scale(0.3300,0.3450)" font-family="Liberation Sans, Arial, Helvetica, sans-serif" font-weight="normal" font-size="100" text-anchor="end" fill="#000" stroke="#000" stroke-width="1.2" stroke-linejoin="round">2</text>
<text transform="translate(108.6,511.6) scale(0.3300,0.3450)" font-family="Liberation Sans, Arial, Helvetica, sans-serif" font-weight="normal" font-size="100" text-anchor="end" fill="#000" stroke="#000" stroke-width="1.2" stroke-linejoin="round">4</text>
<text transform="translate(904.73,814.6) scale(0.3368,0.3450)" font-family="Liberation Sans, Arial, Helvetica, sans-serif" font-weight="normal" font-size="100" text-anchor="start" fill="#000" stroke="#000" stroke-width="1.2" stroke-linejoin="round">Trial number</text>
<rect x="118.90" y="934.30" width="1764.40" height="234.00" fill="none" stroke="#222" stroke-width="1.9"/>
<text transform="translate(118.4,1207.2) scale(0.3300,0.3450)" font-family="Liberation Sans, Arial, Helvetica, sans-serif" font-weight="normal" font-size="100" text-anchor="middle" fill="#000" stroke="#000" stroke-width="1.2" stroke-linejoin="round">0</text>
<text transform="translate(394.09,1207.2) scale(0.3300,0.3450)" font-family="Liberation Sans, Arial, Helvetica, sans-serif" font-weight="normal" font-size="100" text-anchor="middle" fill="#000" stroke="#000" stroke-width="1.2" stroke-linejoin="round">50</text>
<text transform="translate(669.77,1207.2) scale(0.3300,0.3450)" font-family="Liberation Sans, Arial, Helvetica, sans-serif" font-weight="normal" font-size="100" text-anchor="middle" fill="#000" stroke="#000" stroke-width="1.2" stroke-linejoin="round">100</text>
<text transform="translate(945.46,1207.2) scale(0.3300,0.3450)" font-family="Liberation Sans, Arial, Helvetica, sans-serif" font-weight="normal" font-size="100" text-anchor="middle" fill="#000" stroke="#000" stroke-width="1.2" stroke-linejoin="round">150</text>
<text transform="translate(1221.15,1207.2) scale(0.3300,0.3450)" font-family="Liberation Sans, Arial, Helvetica, sans-serif" font-weight="normal" font-size="100" text-anchor="middle" fill="#000" stroke="#000" stroke-width="1.2" stroke-linejoin="round">200</text>
<text transform="translate(1496.84,1207.2) scale(0.3300,0.3450)" font-family="Liberation Sans, Arial, Helvetica, sans-serif" font-weight="normal" font-size="100" text-anchor="middle" fill="#000" stroke="#000" stroke-width="1.2" stroke-linejoin="round">250</text>
<text transform="translate(1772.53,1207.2) scale(0.3300,0.3450)" font-family="Liberation Sans, Arial, Helvetica, sans-serif" font-weight="normal" font-size="100" text-anchor="middle" fill="#000" stroke="#000" stroke-width="1.2" stroke-linejoin="round">300</text>
<text transform="translate(108.6,1159.7) scale(0.3300,0.3450)" font-family="Liberation Sans, Arial, Helvetica, sans-serif" font-weight="normal" font-size="100" text-anchor="end" fill="#000" stroke="#000" stroke-width="1.2" stroke-linejoin="round">0</text>
<text transform="translate(108.6,1062.2) scale(0.3300,0.3450)" font-family="Liberation Sans, Arial, Helvetica, sans-serif" font-weight="normal" font-size="100" text-anchor="end" fill="#000" stroke="#000" stroke-width="1.2" stroke-linejoin="round">0.5</text>
<text transform="translate(108.6,964.7) scale(0.3300,0.3450)" font-family="Liberation Sans, Arial, Helvetica, sans-serif" font-weight="normal" font-size="100" text-anchor="end" fill="#000" stroke="#000" stroke-width="1.2" stroke-linejoin="round">1</text>
<text transform="translate(904.73,1246.6) scale(0.3368,0.3450)" font-family="Liberation Sans, Arial, Helvetica, sans-serif" font-weight="normal" font-size="100" text-anchor="start" fill="#000" stroke="#000" stroke-width="1.2" stroke-linejoin="round">Trial number</text>
<text transform="translate(561.74,29.2) scale(0.3365,0.3450)" font-family="Liberation Sans, Arial, Helvetica, sans-serif" font-weight="bold" font-size="100" text-anchor="start" fill="#000" stroke="#000" stroke-width="1.0" stroke-linejoin="round">Posterior expectation</text>
<text transform="translate(913.99,29.2) scale(0.3762,0.3600)" font-family="Liberation Serif, Times New Roman, serif" font-weight="normal" font-size="100" text-anchor="start" fill="#000" stroke="#000" stroke-width="0" stroke-linejoin="round">μ</text>
<text transform="translate(935.2,46.3) scale(0.2480,0.2550)" font-family="Liberation Sans, Arial, Helvetica, sans-serif" font-weight="bold" font-size="100" text-anchor="start" fill="#000" stroke="#000" stroke-width="1.0" stroke-linejoin="round">3</text>
<text transform="translate(956.9,29.2) scale(0.3378,0.3450)" font-family="Liberation Sans, Arial, Helvetica, sans-serif" font-weight="bold" font-size="100" text-anchor="start" fill="#000" stroke="#000" stroke-width="1.0" stroke-linejoin="round">of log-volatility of tendency x</text>
<text transform="translate(1425.49,46.3) scale(0.2540,0.2550)" font-family="Liberation Sans, Arial, Helvetica, sans-serif" font-weight="bold" font-size="100" text-anchor="start" fill="#000" stroke="#000" stroke-width="1.0" stroke-linejoin="round">3</text>
<text transform="translate(685.84,461.2) scale(0.3367,0.3450)" font-family="Liberation Sans, Arial, Helvetica, sans-serif" font-weight="bold" font-size="100" text-anchor="start" fill="#000" stroke="#000" stroke-width="1.0" stroke-linejoin="round">Posterior expectation</text>
<text transform="translate(1039.29,461.2) scale(0.3762,0.3600)" font-family="Liberation Serif, Times New Roman, serif" font-weight="normal" font-size="100" text-anchor="start" fill="#000" stroke="#000" stroke-width="0" stroke-linejoin="round">μ</text>
<text transform="translate(1059.22,478) scale(0.2592,0.2550)" font-family="Liberation Sans, Arial, Helvetica, sans-serif" font-weight="bold" font-size="100" text-anchor="start" fill="#000" stroke="#000" stroke-width="1.0" stroke-linejoin="round">2</text>
<text transform="translate(1081.85,461.2) scale(0.3370,0.3450)" font-family="Liberation Sans, Arial, Helvetica, sans-serif" font-weight="bold" font-size="100" text-anchor="start" fill="#000" stroke="#000" stroke-width="1.0" stroke-linejoin="round">of tendency x</text>
<text transform="translate(1300.22,478) scale(0.2592,0.2550)" font-family="Liberation Sans, Arial, Helvetica, sans-serif" font-weight="bold" font-size="100" text-anchor="start" fill="#000" stroke="#000" stroke-width="1.0" stroke-linejoin="round">2</text>
<text transform="translate(448.59,893.2) scale(0.3363,0.3450)" font-family="Liberation Sans, Arial, Helvetica, sans-serif" font-weight="bold" font-size="100" text-anchor="start" fill="#000" stroke="#000" stroke-width="1.0" stroke-linejoin="round">Stimulus category x</text>
<text transform="translate(771.34,910.3) scale(0.1596,0.2550)" font-family="Liberation Sans, Arial, Helvetica, sans-serif" font-weight="bold" font-size="100" text-anchor="start" fill="#000" stroke="#000" stroke-width="1.0" stroke-linejoin="round">1</text>
<text transform="translate(791.72,893.2) scale(0.3366,0.3450)" font-family="Liberation Sans, Arial, Helvetica, sans-serif" font-weight="bold" font-size="100" text-anchor="start" fill="#000" stroke="#000" stroke-width="1.0" stroke-linejoin="round">(green) and posterior expectation of x</text>
<text transform="translate(1398.24,910.3) scale(0.1596,0.2550)" font-family="Liberation Sans, Arial, Helvetica, sans-serif" font-weight="bold" font-size="100" text-anchor="start" fill="#000" stroke="#000" stroke-width="1.0" stroke-linejoin="round">1</text>
<text transform="translate(1420.46,893.2) scale(0.3347,0.3450)" font-family="Liberation Sans, Arial, Helvetica, sans-serif" font-weight="bold" font-size="100" text-anchor="start" fill="#000" stroke="#000" stroke-width="1.0" stroke-linejoin="round">= 1 (red)</text>
<text transform="translate(43.6,205.21) rotate(-90) scale(0.3762,0.3600)" font-family="Liberation Serif, Times New Roman, serif" font-weight="normal" font-size="100" text-anchor="start" fill="#000" stroke="#000" stroke-width="0" stroke-linejoin="round">μ</text>
<text transform="translate(60.7,186.45) rotate(-90) scale(0.2617,0.2450)" font-family="Liberation Sans, Arial, Helvetica, sans-serif" font-weight="normal" font-size="100" text-anchor="start" fill="#000" stroke="#000" stroke-width="1.2" stroke-linejoin="round">3</text>
<text transform="translate(43.6,637.21) rotate(-90) scale(0.3762,0.3600)" font-family="Liberation Serif, Times New Roman, serif" font-weight="normal" font-size="100" text-anchor="start" fill="#000" stroke="#000" stroke-width="0" stroke-linejoin="round">μ</text>
<text transform="translate(60.7,618.74) rotate(-90) scale(0.2674,0.2450)" font-family="Liberation Sans, Arial, Helvetica, sans-serif" font-weight="normal" font-size="100" text-anchor="start" fill="#000" stroke="#000" stroke-width="1.2" stroke-linejoin="round">2</text>
<text transform="translate(26.8,1112.41) rotate(-90) scale(0.3146,0.3450)" font-family="Liberation Sans, Arial, Helvetica, sans-serif" font-weight="normal" font-size="100" text-anchor="start" fill="#000" stroke="#000" stroke-width="1.2" stroke-linejoin="round">x</text>
<text transform="translate(43.4,1097.26) rotate(-90) scale(0.1698,0.2350)" font-family="Liberation Sans, Arial, Helvetica, sans-serif" font-weight="normal" font-size="100" text-anchor="start" fill="#000" stroke="#000" stroke-width="1.2" stroke-linejoin="round">1</text>
<text transform="translate(26.8,1085.75) rotate(-90) scale(0.2500,0.3450)" font-family="Liberation Sans, Arial, Helvetica, sans-serif" font-weight="normal" font-size="100" text-anchor="start" fill="#000" stroke="#000" stroke-width="1.2" stroke-linejoin="round">,</text>
<text transform="translate(26.8,1065.36) rotate(-90) scale(0.2860,0.3450)" font-family="Liberation Sans, Arial, Helvetica, sans-serif" font-weight="normal" font-size="100" text-anchor="start" fill="#000" stroke="#000" stroke-width="1.2" stroke-linejoin="round">s</text>
<text transform="translate(26.8,1049.5) rotate(-90) scale(0.3000,0.3450)" font-family="Liberation Sans, Arial, Helvetica, sans-serif" font-weight="normal" font-size="100" text-anchor="start" fill="#000" stroke="#000" stroke-width="1.2" stroke-linejoin="round">(</text>
<text transform="translate(27.7,1037.21) rotate(-90) scale(0.3762,0.3600)" font-family="Liberation Serif, Times New Roman, serif" font-weight="normal" font-size="100" text-anchor="start" fill="#000" stroke="#000" stroke-width="0" stroke-linejoin="round">μ</text>
<text transform="translate(43.4,1017.22) rotate(-90) scale(0.2435,0.2500)" font-family="Liberation Sans, Arial, Helvetica, sans-serif" font-weight="normal" font-size="100" text-anchor="start" fill="#000" stroke="#000" stroke-width="1.2" stroke-linejoin="round">2</text>
<text transform="translate(26.8,1002.79) rotate(-90) scale(0.2885,0.3450)" font-family="Liberation Sans, Arial, Helvetica, sans-serif" font-weight="normal" font-size="100" text-anchor="start" fill="#000" stroke="#000" stroke-width="1.2" stroke-linejoin="round">)</text>
</svg>
</body></html>
